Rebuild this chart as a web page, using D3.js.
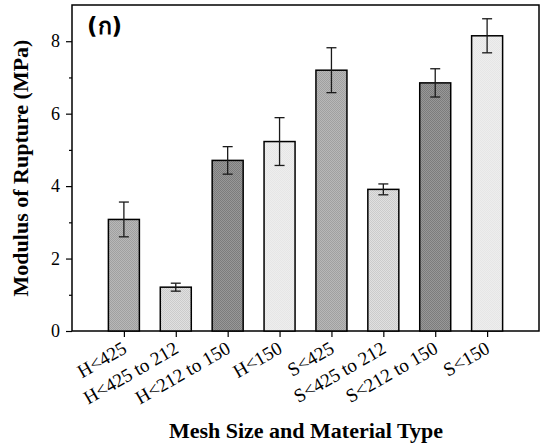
<!DOCTYPE html>
<html>
<head>
<meta charset="utf-8">
<script src="https://cdn.jsdelivr.net/npm/d3@7"></script>
<style>
  body { margin: 0; background: #fff; }
  text { font-family: 'Liberation Serif', 'Times New Roman', serif; }
</style>
</head>
<body>
<div class="chart"></div>
<script>
var categories = ['H<425', 'H<425 to 212', 'H<212 to 150', 'H<150',
                  'S<425', 'S<425 to 212', 'S<212 to 150', 'S<150'];
var values = [3.08, 1.21, 4.71, 5.23, 7.20, 3.91, 6.85, 8.15];
var errors = [0.48, 0.11, 0.38, 0.66, 0.62, 0.15, 0.39, 0.47];
var fillKeys = ['mid', 'light', 'dark', 'pale', 'mid', 'light', 'dark', 'pale'];
var yTicks = [0, 2, 4, 6, 8];
var yMinorTicks = [1, 3, 5, 7];

var margin = { top: 5, right: 2, bottom: 117, left: 72 },
  width = 541 - margin.left - margin.right,
  height = 448 - margin.top - margin.bottom,
  barWidth = 31;

var root = d3.select('.chart')
  .append('svg')
    .attr('width', 541)
    .attr('height', 448);

// textured fills, a 2x2 checker of two greys
var shades = {
  mid:   ['#a0a0a0', '#b8b8b8'],
  light: ['#cbcbcb', '#e0e0e0'],
  dark:  ['#7c7c7c', '#989898'],
  pale:  ['#e6e6e6', '#eeeeee']
};
var defs = root.append('defs');
Object.keys(shades).forEach(function(k) {
  var p = defs.append('pattern')
    .attr('id', 'fill-' + k)
    .attr('patternUnits', 'userSpaceOnUse')
    .attr('width', 2)
    .attr('height', 2);
  p.append('rect').attr('width', 2).attr('height', 2).attr('fill', shades[k][0]);
  p.append('rect').attr('width', 1).attr('height', 1).attr('fill', shades[k][1]);
  p.append('rect').attr('x', 1).attr('y', 1).attr('width', 1).attr('height', 1).attr('fill', shades[k][1]);
});

var svg = root.append('g')
  .attr('transform', `translate(${margin.left}, ${margin.top})`);

var xScale = d3.scaleLinear()
  .domain([0, categories.length + 1])
  .range([0, width]);

var yScale = d3.scaleLinear()
  .domain([0, 9])
  .range([height, 0]);

// frame
svg.append('rect')
  .attr('width', width)
  .attr('height', height)
  .attr('fill', 'none')
  .attr('stroke', '#000')
  .attr('stroke-width', 1.5);

// bars
svg.selectAll('.bar')
  .data(values)
  .enter()
  .append('rect')
    .attr('class', 'bar')
    .attr('x', (d, i) => xScale(i + 1) - barWidth / 2)
    .attr('y', d => yScale(d))
    .attr('width', barWidth)
    .attr('height', d => yScale(0) - yScale(d))
    .attr('fill', (d, i) => `url(#fill-${fillKeys[i]})`)
    .attr('stroke', '#000')
    .attr('stroke-width', 1.5);

// error bars
var err = svg.selectAll('.err')
  .data(values)
  .enter()
  .append('g')
    .attr('class', 'err')
    .attr('stroke', '#1a1a1a')
    .attr('stroke-width', 1.3);

err.append('line')
  .attr('x1', (d, i) => xScale(i + 1))
  .attr('x2', (d, i) => xScale(i + 1))
  .attr('y1', (d, i) => yScale(d + errors[i]))
  .attr('y2', (d, i) => yScale(d - errors[i]));
[1, -1].forEach(function(s) {
  err.append('line')
    .attr('x1', (d, i) => xScale(i + 1) - 5)
    .attr('x2', (d, i) => xScale(i + 1) + 5)
    .attr('y1', (d, i) => yScale(d + s * errors[i]))
    .attr('y2', (d, i) => yScale(d + s * errors[i]));
});

// y axis
var yAxis = svg.append('g')
  .call(d3.axisLeft(yScale).tickValues(yTicks).tickSize(6).tickPadding(6))
  .attr('font-family', null)
  .attr('font-size', null);
svg.append('g')
  .call(d3.axisLeft(yScale).tickValues(yMinorTicks).tickSize(3).tickFormat(''))
  .select('.domain').remove();
yAxis.select('.domain').remove();
yAxis.selectAll('text')
  .attr('font-family', 'Liberation Serif')
  .attr('font-size', 18)
  .attr('fill', '#000');
svg.selectAll('.tick line').attr('stroke-width', 1.2);

// x axis, ticks only; labels drawn rotated below
var xAxis = svg.append('g')
  .attr('transform', `translate(0, ${height})`)
  .call(d3.axisBottom(xScale)
    .tickValues(d3.range(1, categories.length + 1))
    .tickSize(6)
    .tickFormat(''));
xAxis.select('.domain').remove();
xAxis.selectAll('.tick line').attr('stroke-width', 1.2);

var labels = svg.append('g')
  .attr('class', 'x-labels')
  .selectAll('g')
  .data(categories)
  .enter()
  .append('g')
    .attr('transform', (d, i) => `translate(${xScale(i + 1) + 4}, ${height + 21})`);
labels.append('g')
    .attr('transform', 'rotate(-30)')
  .append('text')
    .attr('text-anchor', 'end')
    .attr('font-family', 'Liberation Serif')
    .attr('font-size', 19)
    .text(d => d);

// panel label
svg.append('text')
  .attr('x', 15)
  .attr('y', 29)
  .style('font-family', "'DejaVu Sans', 'Noto Sans', sans-serif")
  .style('font-weight', 'bold')
  .style('font-size', '23px')
  .text('(ก)');

// axis titles
root.append('text')
  .attr('transform', `translate(28, ${margin.top + height / 2}) rotate(-90)`)
  .attr('text-anchor', 'middle')
  .style('font-weight', 'bold')
  .style('font-size', '22px')
  .text('Modulus of Rupture (MPa)');

root.append('text')
  .attr('x', 306)
  .attr('y', 438)
  .attr('text-anchor', 'middle')
  .style('font-weight', 'bold')
  .style('font-size', '22px')
  .text('Mesh Size and Material Type');
</script>
</body>
</html>
